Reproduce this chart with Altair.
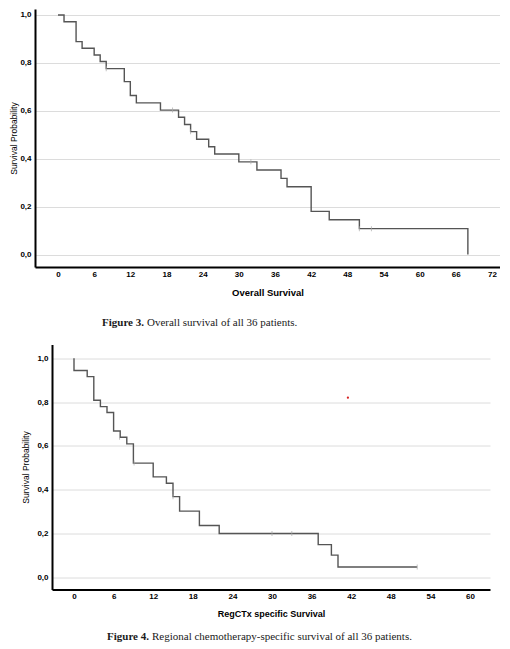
import altair as alt
import pandas as pd

#==========
# data
#==========

# Figure 3: overall survival
os_time = [0, 1, 3, 4, 6, 7, 8, 11, 12, 13, 17, 20, 21, 22, 23, 25, 26, 30, 33, 37, 38, 42, 45, 50, 68]
os_surv = [1.0, 0.972, 0.889, 0.861, 0.833, 0.806, 0.776, 0.722, 0.664, 0.633, 0.603, 0.573, 0.543,
           0.513, 0.481, 0.450, 0.420, 0.387, 0.353, 0.318, 0.283, 0.180, 0.145, 0.108, 0.0]
os_cens_time = [8, 19, 22, 32, 50, 52]
os_cens_surv = [0.776, 0.603, 0.513, 0.387, 0.108, 0.108]

# Figure 4: regional chemotherapy specific survival
rc_time = [0, 0, 2, 3, 4, 5, 6, 7, 8, 9, 12, 14, 15, 16, 19, 22, 37, 39, 40, 52]
rc_surv = [1.0, 0.944, 0.916, 0.808, 0.779, 0.752, 0.668, 0.639, 0.609, 0.521, 0.458, 0.429,
           0.368, 0.302, 0.236, 0.200, 0.149, 0.101, 0.047, 0.047]
rc_cens_time = [6.9, 9.1, 15, 30, 33, 52]
rc_cens_surv = [0.639, 0.521, 0.368, 0.200, 0.200, 0.047]

# stray red dot in the scan
dot_time = [41.5]
dot_surv = [0.82]

y_ticks = [0, 0.2, 0.4, 0.6, 0.8, 1.0]
os_ticks = list(range(0, 73, 6))
rc_ticks = list(range(0, 61, 6))

cap3 = ["Figure 3.", "Overall survival of all 36 patients."]
cap4 = ["Figure 4.", "Regional chemotherapy-specific survival of all 36 patients."]

LINE = "#555555"
CENS = "#aaaaaa"


def km_panel(time, surv, ctime, csurv, xdom, ydom, xticks, xtitle, xtitle_size,
             ytitle_pad, caption, cap_x, cap_y):
    line_df = pd.DataFrame({"t": time, "s": surv, "i": list(range(len(time)))})
    cens_df = pd.DataFrame({"t": ctime, "s": csurv})

    x = alt.X("t:Q", scale=alt.Scale(domain=xdom, nice=False, zero=False),
              axis=alt.Axis(values=xticks, title=xtitle, grid=False,
                            labelPadding=3, titleFontSize=xtitle_size,
                            titleFontWeight="bold", titlePadding=9))
    y = alt.Y("s:Q", scale=alt.Scale(domain=ydom, nice=False, zero=False),
              axis=alt.Axis(values=y_ticks, title="Survival Probability", grid=True,
                            labelExpr="replace(format(datum.value, '.1f'), '.', ',')",
                            labelPadding=4, titleFontSize=8.5, titleFontWeight="normal",
                            titlePadding=ytitle_pad))

    line = alt.Chart(line_df).mark_line(
        interpolate="step-after", color=LINE, strokeWidth=1.4
    ).encode(x=x, y=y, order="i:Q")
    cens = alt.Chart(cens_df).mark_tick(
        orient="vertical", color=CENS, size=5, thickness=1
    ).encode(x=x, y=y)

    bold = alt.Chart(pd.DataFrame({"txt": [caption[0]]})).mark_text(
        align="left", baseline="middle", font="Liberation Serif", fontSize=11,
        fontWeight="bold", color="#1a1a1a"
    ).encode(x=alt.value(cap_x[0]), y=alt.value(cap_y), text="txt:N")
    rest = alt.Chart(pd.DataFrame({"txt": [caption[1]]})).mark_text(
        align="left", baseline="middle", font="Liberation Serif", fontSize=11,
        color="#1a1a1a"
    ).encode(x=alt.value(cap_x[1]), y=alt.value(cap_y), text="txt:N")

    return line, cens, bold, rest, x, y


def spacer(w):
    # empty cell, only there to push a panel to the right
    return alt.Chart(pd.DataFrame({"a": [0]})).mark_text(text="").properties(width=w, height=10)


l3, c3, b3, r3, x3, y3 = km_panel(os_time, os_surv, os_cens_time, os_cens_surv,
                                  [-3.815, 73.33], [-0.052, 1.025], os_ticks,
                                  "Overall Survival", 9.5, 1,
                                  cap3, [67, 112], 313.7)
fig3 = alt.layer(l3, c3, b3, r3).properties(width=465, height=258)

l4, c4, b4, r4, x4, y4 = km_panel(rc_time, rc_surv, rc_cens_time, rc_cens_surv,
                                  [-3.333, 63.03], [-0.056, 1.0626], rc_ticks,
                                  "RegCTx specific Survival", 9, 6,
                                  cap4, [55, 100], 292.5)
dot = alt.Chart(pd.DataFrame({"t": dot_time, "s": dot_surv})).mark_point(
    filled=True, color="#d62020", size=5, opacity=1
).encode(x=x4, y=y4)
fig4 = alt.layer(l4, c4, dot, b4, r4).properties(width=438, height=245)

chart = alt.vconcat(
    alt.hconcat(spacer(1), fig3, spacing=0),
    alt.hconcat(spacer(13), fig4, spacing=0),
    spacing=15.5
).properties(
    padding=0, background="white"
).configure_view(
    strokeWidth=0
).configure_axis(
    labelFont="Liberation Sans", labelFontSize=8, labelFontWeight="bold", labelColor="black",
    titleFont="Liberation Sans", titleColor="black",
    domainColor="black", domainWidth=2, ticks=False,
    gridColor="#dcdcdc", gridWidth=1
)

chart.save("out.html", embed_options={"renderer": "svg", "actions": False})
